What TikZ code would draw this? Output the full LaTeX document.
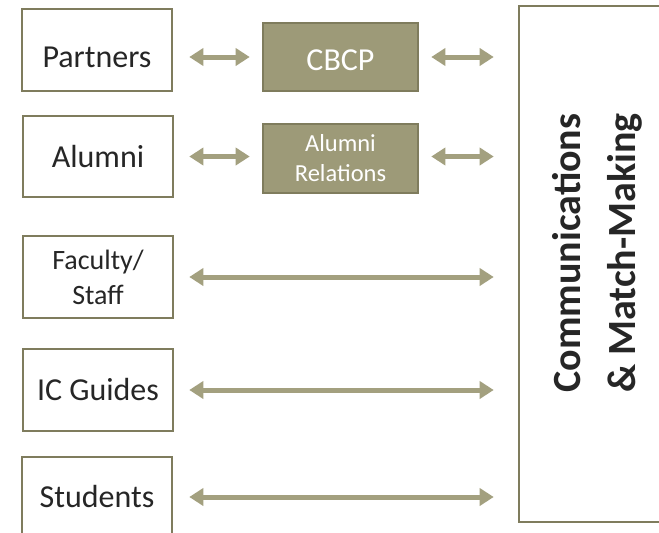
\documentclass[tikz,border=0pt]{standalone}
\usepackage{fontspec}
\setmainfont{Carlito}
\usetikzlibrary{arrows.meta}
\definecolor{boxline}{HTML}{7F7C5D}
\definecolor{boxfill}{HTML}{9D9A78}
\definecolor{arrowc}{HTML}{A3A07F}
\definecolor{txt}{HTML}{262626}
\tikzset{
  plainbox/.style={draw=boxline, line width=2.6pt, fill=white, minimum width=150pt, minimum height=82pt, inner sep=0pt, text=txt, font=\fontsize{32}{38}\selectfont, align=center},
  filledbox/.style={draw=boxline, line width=2.6pt, fill=boxfill, minimum width=155pt, inner sep=0pt, text=white, align=center},
  dar/.style={draw=arrowc, line width=5pt, {Triangle[length=14pt,width=17pt]}-{Triangle[length=14pt,width=17pt]}},
}
\begin{document}
\begin{tikzpicture}[x=1pt,y=-1pt]
\useasboundingbox (0,0) rectangle (659,533);
\fill[white] (0,0) rectangle (659,533);
% left boxes
\node[plainbox, text height=34pt, text depth=0pt] (P) at (97,50) {Partners};
\node[plainbox, minimum height=81pt] (A) at (98,156.5) {Alumni};
\node[plainbox, font=\fontsize{28}{35}\selectfont] (F) at (98,277) {Faculty/\\Staff};
\node[plainbox] (I) at (98,390) {IC Guides};
\node[plainbox, minimum height=80pt] (S) at (97,497) {Students};
% middle filled boxes
\node[filledbox, minimum height=68pt, font=\fontsize{32}{38}\selectfont, text height=26pt, text depth=0pt] (C) at (340.5,57) {CBCP};
\node[filledbox, minimum height=69pt, font=\fontsize{24.5}{30}\selectfont] (R) at (340.5,158.5) {Alumni\\Relations};
% big box
\node[draw=boxline, line width=2.6pt, minimum width=161pt, minimum height=516pt, inner sep=0pt] (B) at (599.5,264) {};
\node[rotate=90, align=center, text=txt, font=\fontsize{40}{55}\bfseries\selectfont] (BT) at (597,253) {Communications\\\& Match-Making};
% arrows
\draw[dar] ([xshift=16pt]P.east |- C.west) -- ([xshift=-12pt]C.west);
\draw[dar] ([xshift=15pt]A.east) -- ([xshift=-12pt]A.east -| R.west);
\draw[dar] ([xshift=12pt]C.east) -- ([xshift=-24pt]C.east -| B.west);
\draw[dar] ([xshift=12pt]R.east |- A.east) -- ([xshift=-24pt]A.east -| B.west);
\draw[dar] ([xshift=15pt]F.east) -- ([xshift=-24pt]F.east -| B.west);
\draw[dar] ([xshift=15pt]I.east) -- ([xshift=-24pt]I.east -| B.west);
\draw[dar] ([xshift=16pt]S.east) -- ([xshift=-24pt]S.east -| B.west);
\end{tikzpicture}
\end{document}
